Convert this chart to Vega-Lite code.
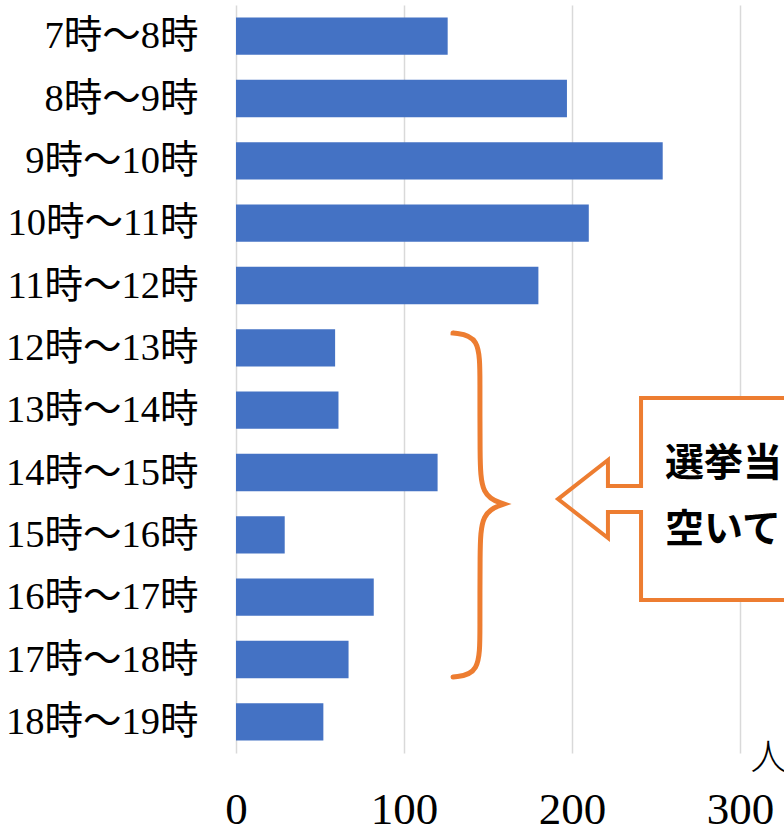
{
  "$schema": "https://vega.github.io/schema/vega-lite/v6.json",
  "autosize": {"type": "none"},
  "width": 548,
  "height": 748,
  "padding": {"left": 236, "top": 5, "right": 0, "bottom": 74},
  "background": "white",
  "config": {"view": {"stroke": null}},
  "resolve": {"scale": {"y": "independent"}, "axis": {"y": "independent"}},
  "layer": [
    {
      "data": {"values": [
        {"time": "7時～8時", "count": 126},
        {"time": "8時～9時", "count": 197},
        {"time": "9時～10時", "count": 254},
        {"time": "10時～11時", "count": 210},
        {"time": "11時～12時", "count": 180},
        {"time": "12時～13時", "count": 59},
        {"time": "13時～14時", "count": 61},
        {"time": "14時～15時", "count": 120},
        {"time": "15時～16時", "count": 29},
        {"time": "16時～17時", "count": 82},
        {"time": "17時～18時", "count": 67},
        {"time": "18時～19時", "count": 52}
      ]},
      "mark": {"type": "bar", "color": "#4472C4"},
      "encoding": {
        "y": {"field": "time", "type": "nominal", "sort": null, "title": null,
          "scale": {"paddingInner": 0.4, "paddingOuter": 0.2},
          "axis": {"domain": false, "ticks": false, "grid": false, "labelFont": "Liberation Serif, Noto Sans CJK JP", "labelFontSize": 38.5, "labelColor": "#000000", "labelPadding": 38, "labelLimit": 300}},
        "x": {"field": "count", "type": "quantitative", "title": null,
          "scale": {"domain": [0, 326.2], "nice": false, "zero": true},
          "axis": {"values": [0, 100, 200, 300], "domain": false, "ticks": false, "grid": true, "gridColor": "#D9D9D9", "gridWidth": 1.5, "labelFont": "Liberation Serif", "labelFontSize": 45, "labelColor": "#000000", "labelPadding": 34, "labelFlush": false}}
      }
    },
    {
      "data": {"values": [{"x1": 241.1, "x2": 340, "r1": 6.305, "r2": 9.546}]},
      "mark": {"type": "rect", "fill": "white", "clip": true},
      "encoding": {
        "x": {"field": "x1", "type": "quantitative", "title": null, "scale": {"domain": [0, 326.2], "nice": false}},
        "x2": {"field": "x2"},
        "y": {"field": "r1", "type": "quantitative", "title": null, "axis": null, "scale": {"domain": [0, 12], "reverse": true, "nice": false, "zero": false}},
        "y2": {"field": "r2"}
      }
    },
    {
      "data": {"values": [
        {"o": 0, "v": 340, "r": 6.305},
        {"o": 1, "v": 241.1, "r": 6.305},
        {"o": 2, "v": 241.1, "r": 7.717},
        {"o": 3, "v": 221.4, "r": 7.717},
        {"o": 4, "v": 221.4, "r": 7.300},
        {"o": 5, "v": 191.7, "r": 7.926},
        {"o": 6, "v": 221.4, "r": 8.551},
        {"o": 7, "v": 221.4, "r": 8.134},
        {"o": 8, "v": 241.1, "r": 8.134},
        {"o": 9, "v": 241.1, "r": 9.546},
        {"o": 10, "v": 340, "r": 9.546}
      ]},
      "mark": {"type": "line", "color": "#ED7D31", "strokeWidth": 4, "clip": true, "strokeJoin": "miter"},
      "encoding": {
        "x": {"field": "v", "type": "quantitative", "title": null, "scale": {"domain": [0, 326.2], "nice": false}},
        "y": {"field": "r", "type": "quantitative", "title": null, "axis": null, "scale": {"domain": [0, 12], "reverse": true, "nice": false, "zero": false}},
        "order": {"field": "o", "type": "quantitative"}
      }
    },
    {
      "data": {"values": [
        {"o": 0, "v": 129.2, "r": 5.262},
        {"o": 1, "v": 129.2, "r": 5.262},
        {"o": 2, "v": 129.2, "r": 5.262},
        {"o": 3, "v": 145.2, "r": 5.310},
        {"o": 4, "v": 145.2, "r": 6.016},
        {"o": 5, "v": 145.2, "r": 7.22},
        {"o": 6, "v": 145.8, "r": 7.878},
        {"o": 7, "v": 159.5, "r": 8.006},
        {"o": 8, "v": 159.5, "r": 8.006},
        {"o": 9, "v": 159.5, "r": 8.006},
        {"o": 10, "v": 145.8, "r": 8.134},
        {"o": 11, "v": 145.2, "r": 8.792},
        {"o": 12, "v": 145.2, "r": 10.027},
        {"o": 13, "v": 145.2, "r": 10.733},
        {"o": 14, "v": 129.2, "r": 10.781},
        {"o": 15, "v": 129.2, "r": 10.781},
        {"o": 16, "v": 129.2, "r": 10.781}
      ]},
      "mark": {"type": "line", "color": "#ED7D31", "strokeWidth": 5, "interpolate": "basis", "strokeCap": "round"},
      "encoding": {
        "x": {"field": "v", "type": "quantitative", "title": null, "scale": {"domain": [0, 326.2], "nice": false}},
        "y": {"field": "r", "type": "quantitative", "title": null, "axis": null, "scale": {"domain": [0, 12], "reverse": true, "nice": false, "zero": false}},
        "order": {"field": "o", "type": "quantitative"}
      }
    },
    {
      "data": {"values": [
        {"label": "選挙当", "v": 255.4, "r": 7.364},
        {"label": "空いて", "v": 255.4, "r": 8.423}
      ]},
      "mark": {"type": "text", "font": "Noto Sans CJK JP", "fontWeight": "bold", "fontSize": 39, "align": "left", "baseline": "middle", "color": "#000000"},
      "encoding": {
        "x": {"field": "v", "type": "quantitative", "title": null, "scale": {"domain": [0, 326.2], "nice": false}},
        "y": {"field": "r", "type": "quantitative", "title": null, "axis": null, "scale": {"domain": [0, 12], "reverse": true, "nice": false, "zero": false}},
        "text": {"field": "label"}
      }
    },
    {
      "data": {"values": [{"label": "人", "v": 317, "r": 12.1}]},
      "mark": {"type": "text", "font": "Noto Sans CJK JP", "fontSize": 36, "fontWeight": "300", "align": "center", "baseline": "middle", "color": "#000000"},
      "encoding": {
        "x": {"field": "v", "type": "quantitative", "title": null, "scale": {"domain": [0, 326.2], "nice": false}},
        "y": {"field": "r", "type": "quantitative", "title": null, "axis": null, "scale": {"domain": [0, 12], "reverse": true, "nice": false, "zero": false}},
        "text": {"field": "label"}
      }
    }
  ]
}
